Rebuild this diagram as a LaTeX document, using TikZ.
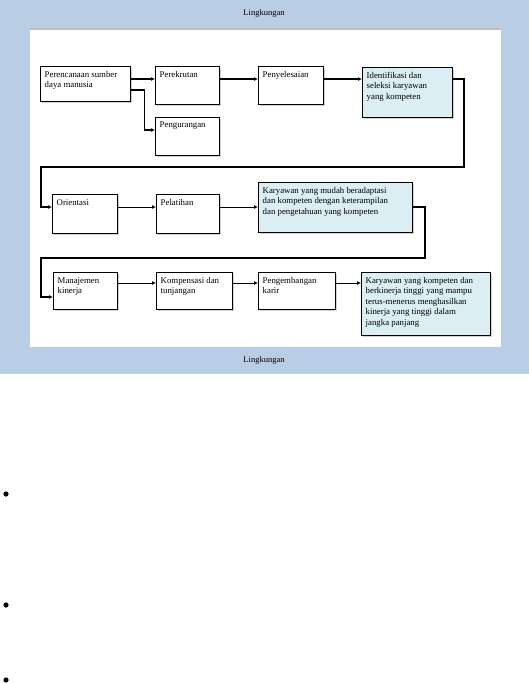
\documentclass[tikz,border=0pt]{standalone}
\usepackage{fontspec}
\setmainfont{Liberation Serif}
\usetikzlibrary{shadows,arrows.meta}
\definecolor{bgblue}{HTML}{B9CDE5}
\definecolor{lblue}{HTML}{DBEEF4}
\newcommand{\bxtext}[3]{\parbox[t][#2][t]{#1}{\raggedright #3}}
\begin{document}
\begin{tikzpicture}[x=1pt,y=-1pt,
  font=\fontsize{8.8}{10.5}\selectfont,
  stepbox/.style={draw=black,line width=1.4pt,fill=white,anchor=north west,
    inner xsep=4pt,inner ysep=4.5pt,
    drop shadow={shadow xshift=1.5pt,shadow yshift=-1.5pt,opacity=0.35}},
  bluebox/.style={stepbox,fill=lblue},
  thickarr/.style={line width=1.5pt,-{Latex[length=4pt,width=4pt]}},
  thinarr/.style={line width=0.9pt,-{Latex[length=4pt,width=4pt]}},
  lbl/.style={font=\fontsize{8.5}{10}\selectfont}]
\useasboundingbox (0,0) rectangle (529,683);
\fill[bgblue] (0,0) rectangle (529,374);
\fill[black!25] (30,28) rectangle (501,347);
\fill[white] (30,30) rectangle (501,347);
\node[lbl] (envtop) at (264,13) {Lingkungan};
\node[lbl] (envbot) at (264,360) {Lingkungan};
% row 1
\node[stepbox] (b1) at (40,66) {\bxtext{82pt}{26pt}{Perencanaan sumber\\daya manusia}};
\node[stepbox] (b2) at (155,66) {\bxtext{56pt}{29pt}{Perekrutan}};
\node[stepbox] (b3) at (258,66) {\bxtext{57pt}{29pt}{Penyelesaian}};
\node[bluebox] (b4) at (362,67) {\bxtext{82pt}{41pt}{Identifikasi dan\\seleksi karyawan\\yang kompeten}};
\node[stepbox] (b5) at (155,117) {\bxtext{56pt}{29pt}{Pengurangan}};
% row 2
\node[stepbox] (b6) at (52,194) {\bxtext{57pt}{30pt}{Orientasi}};
\node[stepbox] (b7) at (156,194) {\bxtext{55pt}{30pt}{Pelatihan}};
\node[bluebox] (b8) at (258,182) {\bxtext{146pt}{41pt}{Karyawan yang mudah beradaptasi\\dan kompeten dengan keterampilan\\dan pengetahuan yang kompeten}};
% row 3
\node[stepbox] (b9) at (53,272) {\bxtext{56pt}{28pt}{Manajemen\\kinerja}};
\node[stepbox] (b10) at (156,272) {\bxtext{68pt}{28pt}{Kompensasi dan\\tunjangan}};
\node[stepbox] (b11) at (258,272) {\bxtext{69pt}{28pt}{Pengembangan\\karir}};
\node[bluebox] (b12) at (361,272) {\bxtext{121pt}{54pt}{Karyawan yang kompeten dan\\berkinerja tinggi yang mampu\\terus-menerus menghasilkan\\kinerja yang tinggi dalam\\jangka panjang}};
% turning points
\coordinate (t1) at (464,167);
\coordinate (t2) at (41,167);
\coordinate (t3) at (425,258);
\coordinate (t4) at (41,258);
% connectors row 1
\draw[thickarr] ([yshift=-13pt]b1.north east) -- ([yshift=-13pt]b2.north west);
\draw[thickarr] ([yshift=-24pt]b1.north east) -- ++(13,0) |- ([yshift=-13pt]b5.north west);
\draw[thickarr] ([yshift=-13pt]b2.north east) -- ([yshift=-13pt]b3.north west);
\draw[thickarr] ([yshift=-13pt]b3.north east) -- ([yshift=-12pt]b4.north west);
\draw[thickarr] ([yshift=-12pt]b4.north east) -| (t1) -- (t2) |- ([yshift=-13pt]b6.north west);
% row 2
\draw[thinarr] ([yshift=-13pt]b6.north east) -- ([yshift=-13pt]b7.north west);
\draw[thinarr] ([yshift=-13pt]b7.north east) -- ([yshift=-25pt]b8.north west);
\draw[thickarr] ([yshift=-25pt]b8.north east) -| (t3) -- (t4) |- ([yshift=-25pt]b9.north west);
% row 3
\draw[thinarr] ([yshift=-11pt]b9.north east) -- ([yshift=-11pt]b10.north west);
\draw[thinarr] ([yshift=-11pt]b10.north east) -- ([yshift=-11pt]b11.north west);
\draw[thinarr] ([yshift=-11pt]b11.north east) -- ([yshift=-11pt]b12.north west);
% bullets
\fill (6,494) circle (2.6);
\fill (6,605) circle (2.6);
\fill (6,680) circle (2.6);
\end{tikzpicture}
\end{document}
